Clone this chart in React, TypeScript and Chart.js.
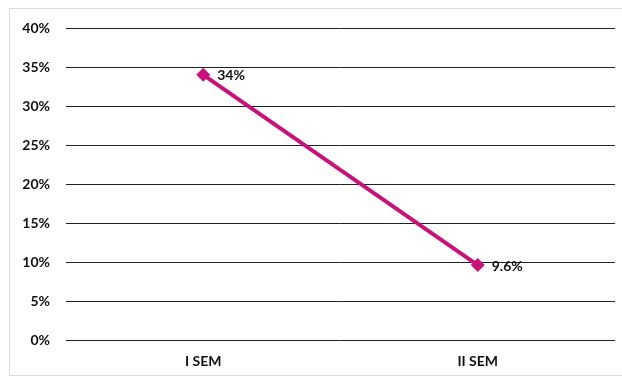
import React, { useEffect, useRef } from "react";
import { Chart, registerables } from "chart.js";

Chart.register(...registerables);

const categories = ["I SEM", "II SEM"];
const values = [34, 9.6];
const valueLabels = ["34%", "9.6%"];
const yMin = 0;
const yMax = 40;
const yStep = 5;

const LINE_COLOR = "#C8127A";
const FONT = "Lato, 'Open Sans', sans-serif";

const labelPlugin = {
  id: "pointLabels",
  afterDatasetsDraw(chart: any) {
    const ctx = chart.ctx;
    const meta = chart.getDatasetMeta(0);
    ctx.save();
    ctx.font = `bold 14px ${FONT}`;
    ctx.fillStyle = "#111";
    ctx.textAlign = "left";
    ctx.textBaseline = "middle";
    meta.data.forEach((pt: any, i: number) => {
      ctx.fillText(valueLabels[i], pt.x + 14, pt.y + 1);
    });
    ctx.restore();
  },
};

export default function App() {
  const ref = useRef<HTMLCanvasElement | null>(null);
  useEffect(() => {
    if (!ref.current) return;
    const chart = new Chart(ref.current, {
      type: "line",
      data: {
        labels: categories,
        datasets: [
          {
            data: values,
            borderColor: LINE_COLOR,
            backgroundColor: LINE_COLOR,
            borderWidth: 4,
            pointStyle: "rectRot",
            pointRadius: 7,
            pointHoverRadius: 7,
            pointBackgroundColor: LINE_COLOR,
            pointBorderWidth: 0,
            tension: 0,
          },
        ],
      },
      options: {
        animation: false,
        responsive: false,
        maintainAspectRatio: false,
        layout: { padding: { left: 0, right: 7, top: 28, bottom: 0 } },
        plugins: { legend: { display: false }, tooltip: { enabled: false } },
        scales: {
          x: {
            offset: true,
            grid: { display: false },
            border: { display: false },
            ticks: {
              color: "#111",
              font: { family: FONT, size: 14, weight: "bold" },
              padding: 5,
            },
            afterFit(axis: any) {
              axis.height = 39;
            },
          },
          y: {
            min: yMin,
            max: yMax,
            grid: { color: "#222", lineWidth: 1, drawTicks: false },
            border: { display: false },
            ticks: {
              stepSize: yStep,
              color: "#111",
              padding: 16,
              font: { family: FONT, size: 14, weight: "bold" },
              callback: (v: any) => `${v}%`,
            },
            afterFit(axis: any) {
              axis.width = 66;
            },
          },
        },
      },
      plugins: [labelPlugin],
    });
    return () => chart.destroy();
  }, []);
  return (
    <div style={{ position: "fixed", left: 0, top: 0, width: 622, height: 379, background: "#fff" }}>
      <div
        style={{
          position: "absolute",
          left: 9,
          top: 8,
          width: 620,
          height: 368,
          border: "1px solid #d9d9d9",
          boxSizing: "border-box",
        }}
      />
      <canvas ref={ref} width={622} height={379} style={{ position: "absolute", left: 0, top: 0 }} />
    </div>
  );
}
